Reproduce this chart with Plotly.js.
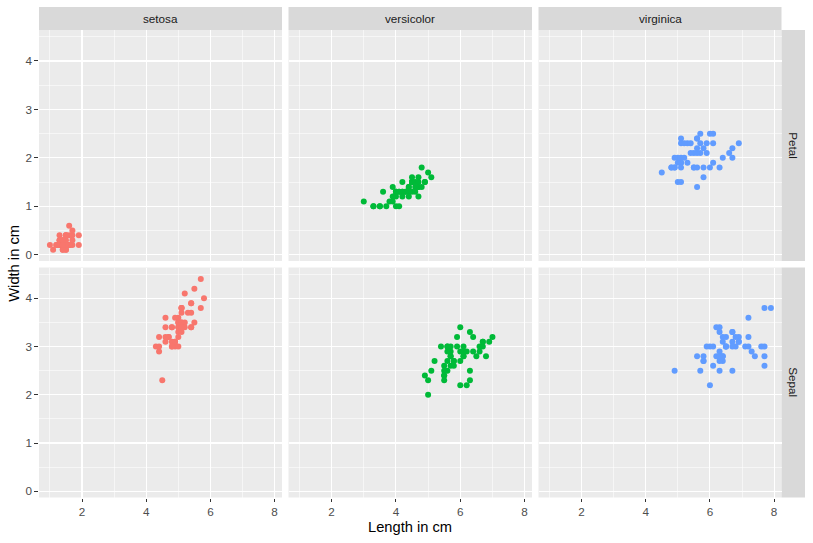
<!DOCTYPE html>
<html>
<head>
<meta charset="utf-8">
<script src="https://cdn.plot.ly/plotly-3.0.1.min.js"></script>
<style>
  html, body { margin: 0; padding: 0; background: white; }
  #plot { width: 813px; height: 543px; }
</style>
</head>
<body>
<div id="plot"></div>
<script>
// iris measurements, by species
var setosaSepalLength = [5.1,4.9,4.7,4.6,5.0,5.4,4.6,5.0,4.4,4.9,5.4,4.8,4.8,4.3,5.8,5.7,5.4,5.1,5.7,5.1,5.4,5.1,4.6,5.1,4.8,5.0,5.0,5.2,5.2,4.7,4.8,5.4,5.2,5.5,4.9,5.0,5.5,4.9,4.4,5.1,5.0,4.5,4.4,5.0,5.1,4.8,5.1,4.6,5.3,5.0];
var setosaSepalWidth  = [3.5,3.0,3.2,3.1,3.6,3.9,3.4,3.4,2.9,3.1,3.7,3.4,3.0,3.0,4.0,4.4,3.9,3.5,3.8,3.8,3.4,3.7,3.6,3.3,3.4,3.0,3.4,3.5,3.4,3.2,3.1,3.4,4.1,4.2,3.1,3.2,3.5,3.6,3.0,3.4,3.5,2.3,3.2,3.5,3.8,3.0,3.8,3.2,3.7,3.3];
var setosaPetalLength = [1.4,1.4,1.3,1.5,1.4,1.7,1.4,1.5,1.4,1.5,1.5,1.6,1.4,1.1,1.2,1.5,1.3,1.4,1.7,1.5,1.7,1.5,1.0,1.7,1.9,1.6,1.6,1.5,1.4,1.6,1.6,1.5,1.5,1.4,1.5,1.2,1.3,1.4,1.3,1.5,1.3,1.3,1.3,1.6,1.9,1.4,1.6,1.4,1.5,1.4];
var setosaPetalWidth  = [0.2,0.2,0.2,0.2,0.2,0.4,0.3,0.2,0.2,0.1,0.2,0.2,0.1,0.1,0.2,0.4,0.4,0.3,0.3,0.3,0.2,0.4,0.2,0.5,0.2,0.2,0.4,0.2,0.2,0.2,0.2,0.4,0.1,0.2,0.2,0.2,0.2,0.1,0.2,0.2,0.3,0.3,0.2,0.6,0.4,0.3,0.2,0.2,0.2,0.2];

var versicolorSepalLength = [7.0,6.4,6.9,5.5,6.5,5.7,6.3,4.9,6.6,5.2,5.0,5.9,6.0,6.1,5.6,6.7,5.6,5.8,6.2,5.6,5.9,6.1,6.3,6.1,6.4,6.6,6.8,6.7,6.0,5.7,5.5,5.5,5.8,6.0,5.4,6.0,6.7,6.3,5.6,5.5,5.5,6.1,5.8,5.0,5.6,5.7,5.7,6.2,5.1,5.7];
var versicolorSepalWidth  = [3.2,3.2,3.1,2.3,2.8,2.8,3.3,2.4,2.9,2.7,2.0,3.0,2.2,2.9,2.9,3.1,3.0,2.7,2.2,2.5,3.2,2.8,2.5,2.8,2.9,3.0,2.8,3.0,2.9,2.6,2.4,2.4,2.7,2.7,3.0,3.4,3.1,2.3,3.0,2.5,2.6,3.0,2.6,2.3,2.7,3.0,2.9,2.9,2.5,2.8];
var versicolorPetalLength = [4.7,4.5,4.9,4.0,4.6,4.5,4.7,3.3,4.6,3.9,3.5,4.2,4.0,4.7,3.6,4.4,4.5,4.1,4.5,3.9,4.8,4.0,4.9,4.7,4.3,4.4,4.8,5.0,4.5,3.5,3.8,3.7,3.9,5.1,4.5,4.5,4.7,4.4,4.1,4.0,4.4,4.6,4.0,3.3,4.2,4.2,4.2,4.3,3.0,4.1];
var versicolorPetalWidth  = [1.4,1.5,1.5,1.3,1.5,1.3,1.6,1.0,1.3,1.4,1.0,1.5,1.0,1.4,1.3,1.4,1.5,1.0,1.5,1.1,1.8,1.3,1.5,1.2,1.3,1.4,1.4,1.7,1.5,1.0,1.1,1.0,1.2,1.6,1.5,1.6,1.5,1.3,1.3,1.3,1.2,1.4,1.2,1.0,1.3,1.2,1.3,1.3,1.1,1.3];

var virginicaSepalLength = [6.3,5.8,7.1,6.3,6.5,7.6,4.9,7.3,6.7,7.2,6.5,6.4,6.8,5.7,5.8,6.4,6.5,7.7,7.7,6.0,6.9,5.6,7.7,6.3,6.7,7.2,6.2,6.1,6.4,7.2,7.4,7.9,6.4,6.3,6.1,7.7,6.3,6.4,6.0,6.9,6.7,6.9,5.8,6.8,6.7,6.7,6.3,6.5,6.2,5.9];
var virginicaSepalWidth  = [3.3,2.7,3.0,2.9,3.0,3.0,2.5,2.9,2.5,3.6,3.2,2.7,3.0,2.5,2.8,3.2,3.0,3.8,2.6,2.2,3.2,2.8,2.8,2.7,3.3,3.2,2.8,3.0,2.8,3.0,2.8,3.8,2.8,2.8,2.6,3.0,3.4,3.1,3.0,3.1,3.1,3.1,2.7,3.2,3.3,3.0,2.5,3.0,3.4,3.0];
var virginicaPetalLength = [6.0,5.1,5.9,5.6,5.8,6.6,4.5,6.3,5.8,6.1,5.1,5.3,5.5,5.0,5.1,5.3,5.5,6.7,6.9,5.0,5.7,4.9,6.7,4.9,5.7,6.0,4.8,4.9,5.6,5.8,6.1,6.4,5.6,5.1,5.6,6.1,5.6,5.5,4.8,5.4,5.6,5.1,5.1,5.9,5.7,5.2,5.0,5.2,5.4,5.1];
var virginicaPetalWidth  = [2.5,1.9,2.1,1.8,2.2,2.1,1.7,1.8,1.8,2.5,2.0,1.9,2.1,2.0,2.4,2.3,1.8,2.2,2.3,1.5,2.3,2.0,2.0,1.8,2.1,1.8,1.8,1.8,2.1,1.6,1.9,2.0,2.2,1.5,1.4,2.3,2.4,1.8,1.8,2.1,2.4,2.3,1.9,2.3,2.5,2.3,1.9,2.0,2.3,1.8];

var species = ["setosa", "versicolor", "virginica"];
var parts = ["Petal", "Sepal"];
var colors = ["#F8766D", "#00BA38", "#619CFF"];

var W = 813, H = 543;
// panel edges in pixels
var colX = [[39, 282], [288.5, 532], [538.5, 781.5]];
var rowY = [[30, 261], [267.5, 497.5]];
var stripTop = [7, 30];
var stripRight = [781.5, 805];

function px(v) { return v / W; }
function py(v) { return 1 - v / H; }

var xData = [
  [setosaPetalLength, versicolorPetalLength, virginicaPetalLength],
  [setosaSepalLength, versicolorSepalLength, virginicaSepalLength]
];
var yData = [
  [setosaPetalWidth, versicolorPetalWidth, virginicaPetalWidth],
  [setosaSepalWidth, versicolorSepalWidth, virginicaSepalWidth]
];

var tickFont = { family: "Liberation Sans, Arial, sans-serif", size: 11.7, color: "#4D4D4D" };

var traces = [];
var layout = {
  width: W, height: H,
  margin: { l: 0, r: 0, t: 0, b: 0, pad: 0 },
  paper_bgcolor: "white",
  plot_bgcolor: "#EBEBEB",
  showlegend: false,
  shapes: [],
  annotations: []
};

for (var r = 0; r < 2; r++) {
  for (var c = 0; c < 3; c++) {
    var n = r * 3 + c + 1;
    var xa = n === 1 ? "x" : "x" + n;
    var ya = n === 1 ? "y" : "y" + n;
    traces.push({
      x: xData[r][c], y: yData[r][c],
      xaxis: xa, yaxis: ya,
      type: "scatter", mode: "markers",
      marker: { color: colors[c], size: 6 },
      hoverinfo: "x+y"
    });
    layout["xaxis" + (n === 1 ? "" : n)] = {
      domain: [px(colX[c][0]), px(colX[c][1])],
      anchor: ya,
      range: [0.66, 8.23],
      dtick: 2, tick0: 0,
      showgrid: true, gridcolor: "white", gridwidth: 1.07,
      minor: { dtick: 1, tick0: 0, showgrid: true, gridcolor: "white", gridwidth: 0.53 },
      zeroline: false, showline: false,
      ticks: r === 1 ? "outside" : "",
      ticklen: 3.7, tickwidth: 1, tickcolor: "#333333",
      showticklabels: r === 1,
      tickfont: tickFont
    };
    layout["yaxis" + (n === 1 ? "" : n)] = {
      domain: [py(rowY[r][1]), py(rowY[r][0])],
      anchor: xa,
      range: [-0.13, 4.64],
      dtick: 1, tick0: 0,
      showgrid: true, gridcolor: "white", gridwidth: 1.07,
      minor: { dtick: 0.5, tick0: 0, showgrid: true, gridcolor: "white", gridwidth: 0.53 },
      zeroline: false, showline: false,
      ticks: c === 0 ? "outside" : "",
      ticklen: 3.7, tickwidth: 1, tickcolor: "#333333",
      showticklabels: c === 0,
      tickfont: tickFont
    };
  }
}

// top strips
for (var c = 0; c < 3; c++) {
  layout.shapes.push({
    type: "rect", xref: "paper", yref: "paper",
    x0: px(colX[c][0]), x1: px(colX[c][1]),
    y0: py(stripTop[1]), y1: py(stripTop[0]),
    fillcolor: "#D9D9D9", line: { width: 0 }, layer: "below"
  });
  layout.annotations.push({
    xref: "paper", yref: "paper",
    x: px((colX[c][0] + colX[c][1]) / 2), y: py((stripTop[0] + stripTop[1]) / 2),
    xanchor: "center", yanchor: "middle", showarrow: false,
    text: species[c],
    font: { family: "Liberation Sans, Arial, sans-serif", size: 11.7, color: "#1A1A1A" }
  });
}
// right strips
for (var r = 0; r < 2; r++) {
  layout.shapes.push({
    type: "rect", xref: "paper", yref: "paper",
    x0: px(stripRight[0]), x1: px(stripRight[1]),
    y0: py(rowY[r][1]), y1: py(rowY[r][0]),
    fillcolor: "#D9D9D9", line: { width: 0 }, layer: "below"
  });
  layout.annotations.push({
    xref: "paper", yref: "paper",
    x: px((stripRight[0] + stripRight[1]) / 2), y: py((rowY[r][0] + rowY[r][1]) / 2),
    xanchor: "center", yanchor: "middle", showarrow: false,
    text: parts[r], textangle: 90,
    font: { family: "Liberation Sans, Arial, sans-serif", size: 11.7, color: "#1A1A1A" }
  });
}

// axis titles
layout.annotations.push({
  xref: "paper", yref: "paper",
  x: px((colX[0][0] + colX[2][1]) / 2), y: py(527),
  xanchor: "center", yanchor: "middle", showarrow: false,
  text: "Length in cm",
  font: { family: "Liberation Sans, Arial, sans-serif", size: 14.7, color: "black" }
});
layout.annotations.push({
  xref: "paper", yref: "paper",
  x: px(14), y: py((rowY[0][0] + rowY[1][1]) / 2),
  xanchor: "center", yanchor: "middle", showarrow: false,
  text: "Width in cm", textangle: -90,
  font: { family: "Liberation Sans, Arial, sans-serif", size: 14.7, color: "black" }
});

Plotly.newPlot("plot", traces, layout, { displayModeBar: false, staticPlot: true });
</script>
</body>
</html>
